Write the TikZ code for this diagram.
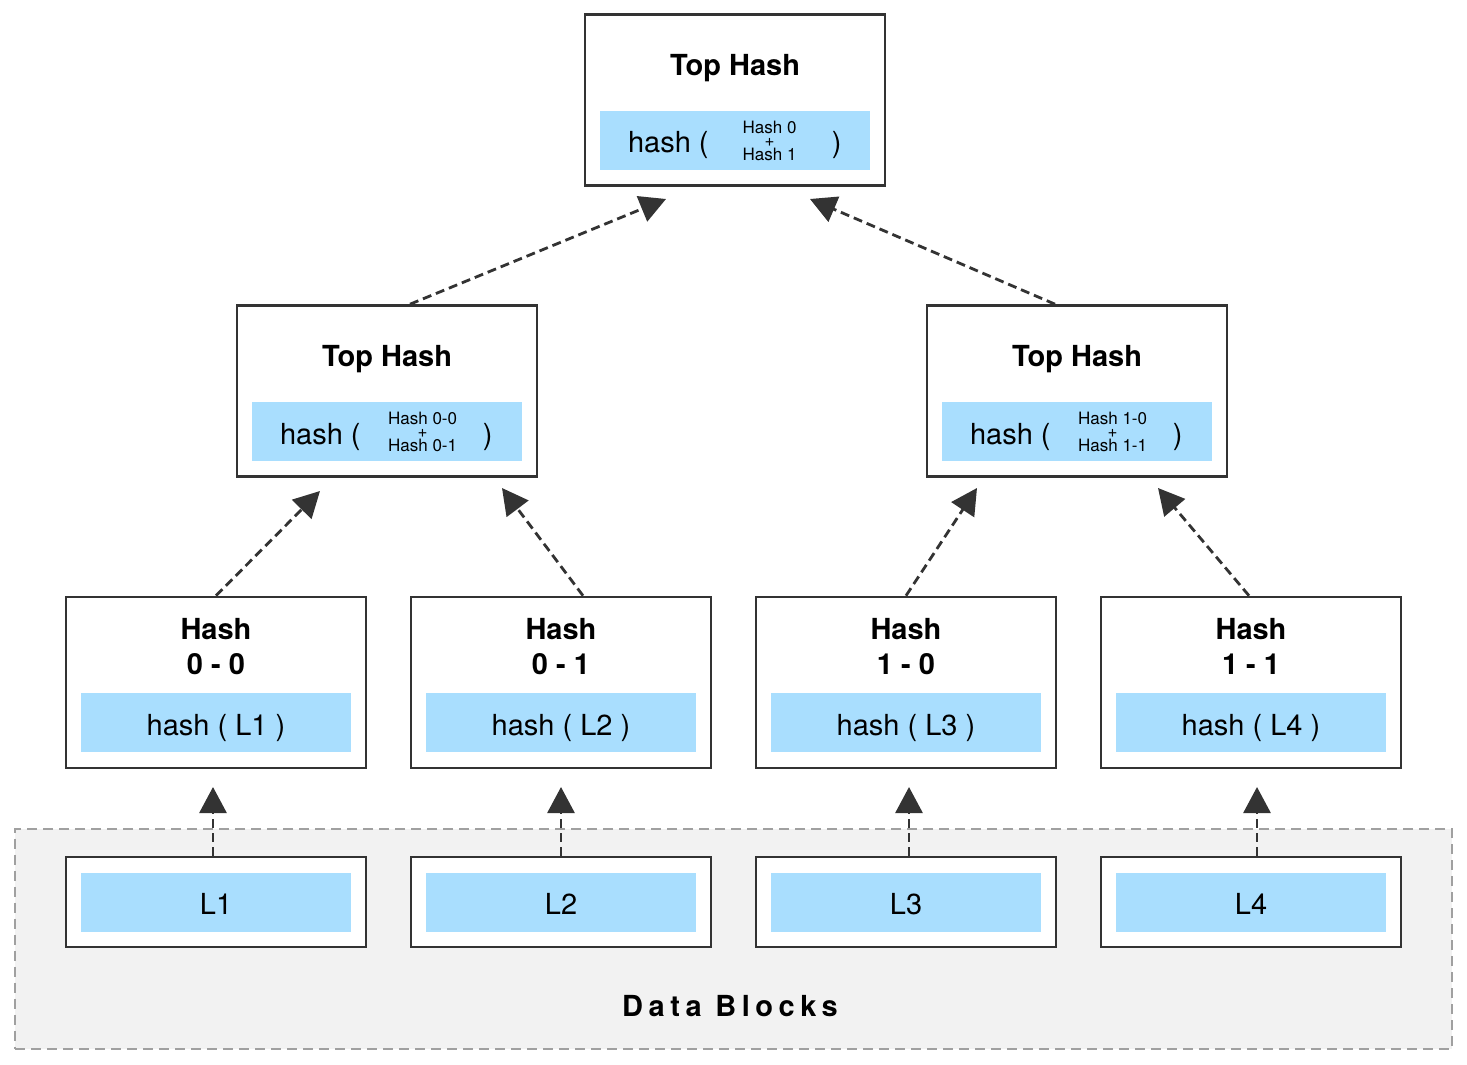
\documentclass[tikz,border=0pt]{standalone}
\usepackage{fontspec}
\setmainfont{TeX Gyre Heros}
\usetikzlibrary{arrows.meta}
\definecolor{boxline}{HTML}{333333}
\definecolor{hashblue}{HTML}{A9DEFE}
\definecolor{blockgray}{HTML}{F2F2F2}
\definecolor{blockline}{HTML}{A0A0A0}

\begin{document}
\begin{tikzpicture}[x=0.5pt,y=-0.5pt,
  >={Triangle[length=13pt,width=13.5pt]},
  box/.style={draw=boxline,line width=1.3pt,fill=white,minimum width=150pt,minimum height=85.5pt,inner sep=0pt},
  leaf/.style={box,minimum height=45pt},
  blue/.style={fill=hashblue,minimum width=135pt,minimum height=29.5pt,inner sep=0pt,text height=15.5pt,text depth=3pt,font=\fontsize{14.5}{17}\selectfont},
  txt/.style={inner sep=0pt,font=\fontsize{14.5}{17}\selectfont},
  title/.style={inner sep=0pt,align=center,font=\fontsize{14.5}{17.5}\selectfont\bfseries},
  sum/.style={inner sep=0pt,align=center,font=\fontsize{8.5}{6.75}\selectfont},
  link/.style={->,color=boxline,line width=1.4pt,dash pattern=on 4.5pt off 2.5pt}]
\useasboundingbox (0,0) rectangle (1467,1065);

% data blocks
\node[draw=blockline,fill=blockgray,line width=1pt,dash pattern=on 5pt off 3pt,minimum width=718.5pt,minimum height=110pt,inner sep=0pt] (data) at (733.5,938.5) {};
\node[txt,anchor=base,font=\fontsize{14.5}{17}\selectfont\bfseries\addfontfeatures{LetterSpace=19}] (data-t) at (730,1016) {Data Blocks};

\node[leaf] (l1) at (216,902) {};
\node[leaf] (l2) at (561,902) {};
\node[leaf] (l3) at (906,902) {};
\node[leaf] (l4) at (1251,902) {};
\node[blue] (l1-b) at (l1) {L1};
\node[blue] (l2-b) at (l2) {L2};
\node[blue] (l3-b) at (l3) {L3};
\node[blue] (l4-b) at (l4) {L4};

% leaf hashes
\node[box] (h00) at (216,682.5) {};
\node[box] (h01) at (561,682.5) {};
\node[box] (h10) at (906,682.5) {};
\node[box] (h11) at (1251,682.5) {};
\node[title,anchor=north] at ([yshift=-11.1pt]h00.north) {Hash\\0 - 0};
\node[title,anchor=north] at ([yshift=-11.1pt]h01.north) {Hash\\0 - 1};
\node[title,anchor=north] at ([yshift=-11.1pt]h10.north) {Hash\\1 - 0};
\node[title,anchor=north] at ([yshift=-11.1pt]h11.north) {Hash\\1 - 1};
\node[blue] (h00-b) at (216,722.5) {hash ( L1 )};
\node[blue] (h01-b) at (561,722.5) {hash ( L2 )};
\node[blue] (h10-b) at (906,722.5) {hash ( L3 )};
\node[blue] (h11-b) at (1251,722.5) {hash ( L4 )};

% middle
\node[box] (m0) at (387,391) {};
\node[box] (m1) at (1077,391) {};
\node[title,anchor=base] at ([yshift=-31pt]m0.north) {Top Hash};
\node[title,anchor=base] at ([yshift=-31pt]m1.north) {Top Hash};
\node[blue] (m0-b) at (387,431.5) {};
\node[blue] (m1-b) at (1077,431.5) {};
\node[txt,anchor=base west] at ([xshift=14pt,yshift=-6.25pt]m0-b.west) {hash (};
\node[sum] at ([xshift=85.5pt]m0-b.west) {Hash 0-0\\+\\Hash 0-1};
\node[txt,anchor=base] at ([xshift=118pt,yshift=-6.25pt]m0-b.west) {)};
\node[txt,anchor=base west] at ([xshift=14pt,yshift=-6.25pt]m1-b.west) {hash (};
\node[sum] at ([xshift=85.5pt]m1-b.west) {Hash 1-0\\+\\Hash 1-1};
\node[txt,anchor=base] at ([xshift=118pt,yshift=-6.25pt]m1-b.west) {)};

% top
\node[box] (top) at (735,100) {};
\node[title,anchor=base] at ([yshift=-31pt]top.north) {Top Hash};
\node[blue] (top-b) at (735,140.5) {};
\node[txt,anchor=base west] at ([xshift=14pt,yshift=-6.25pt]top-b.west) {hash (};
\node[sum] at ([xshift=85pt]top-b.west) {Hash 0\\+\\Hash 1};
\node[txt,anchor=base] at ([xshift=118.5pt,yshift=-6.25pt]top-b.west) {)};

% arrow tips
\coordinate (a1) at (213,787);
\coordinate (a2) at (561,787);
\coordinate (a3) at (909,787);
\coordinate (a4) at (1257,787);
\coordinate (c00) at (320,491);
\coordinate (c01) at (502,488);
\coordinate (c10) at (977,488);
\coordinate (c11) at (1158,488);
\coordinate (d0) at (666,199);
\coordinate (d1) at (810,199);

\draw[link] (a1 |- l1.north) -- (a1);
\draw[link] (a2 |- l2.north) -- (a2);
\draw[link] (a3 |- l3.north) -- (a3);
\draw[link] (a4 |- l4.north) -- (a4);
\draw[link] (h00.north) -- (c00);
\draw[link] ([xshift=11pt]h01.north) -- (c01);
\draw[link] (h10.north) -- (c10);
\draw[link] ([xshift=-1pt]h11.north) -- (c11);
\draw[link] ([xshift=11.5pt]m0.north) -- (d0);
\draw[link] ([xshift=-11pt]m1.north) -- (d1);
\end{tikzpicture}
\end{document}
